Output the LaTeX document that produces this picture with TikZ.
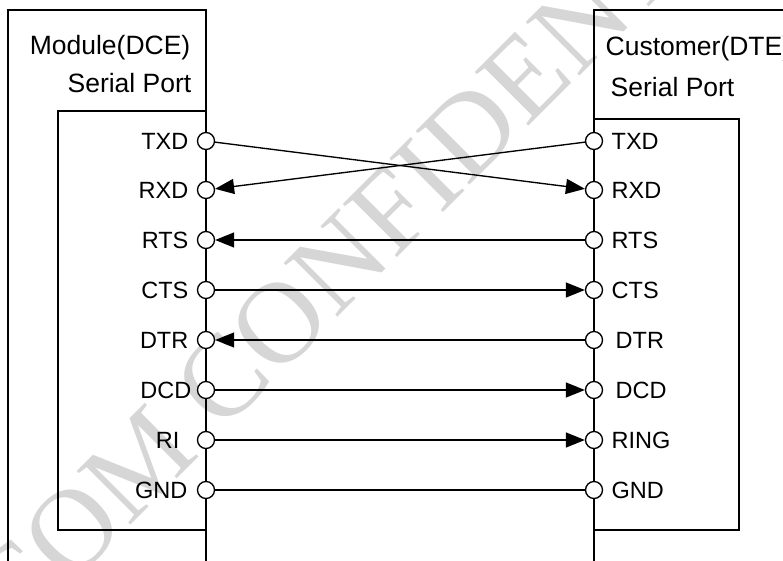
\documentclass[tikz,border=0pt]{standalone}
\usepackage{fontspec}
\setmainfont{Liberation Sans}
\newfontfamily\wmfont{Liberation Serif}
\usetikzlibrary{arrows.meta}
\begin{document}
\begin{tikzpicture}[x=1pt,y=-1pt,line width=1.35pt,
  pinc/.style={circle,draw,fill=white,minimum size=17pt,inner sep=0pt},
  lbl/.style={font=\fontsize{23.5}{27}\selectfont,inner sep=0pt},
  ttl/.style={font=\fontsize{26.5}{30}\selectfont,inner sep=0pt},
  sig/.style={-{Triangle[length=19pt,width=15pt]}},
  wmark/.style={font=\wmfont\fontsize{116}{116}\selectfont,text=black!16,rotate=45,inner sep=0pt}]
\useasboundingbox (0,0) rectangle (783,561);
\node[wmark] (wm) at (392,210) {COM CONFIDENTIAL};
% module box
\draw (8,561) -- (8,10) -- (206,10) -- (206,561);
\draw (206,111) -- (58,111) -- (58,530) -- (206,530);
% customer box
\draw (783,10) -- (594,10) -- (594,561);
\draw (594,119) -- (739,119) -- (739,530) -- (594,530);
% titles
\node[ttl,anchor=base east] (mt) at (191,55) {Module(DCE)};
\node[ttl,anchor=base east] (ms) at (192,93) {Serial Port};
\node[ttl,anchor=base west] (ct) at (605,56) {Customer(DTE)};
\node[ttl,anchor=base west] (cs) at (610,97) {Serial Port};
% pins
\foreach \i/\y in {1/141,2/190,3/240,4/290,5/340,6/390,7/440,8/490}{
  \node[pinc] (L\i) at (206,\y) {};
  \node[pinc] (R\i) at (594,\y) {};
}
% left labels
\node[lbl,anchor=east] (lt1) at (189,141) {TXD};
\node[lbl,anchor=east] (lt2) at (189,190) {RXD};
\node[lbl,anchor=east] (lt3) at (189,240) {RTS};
\node[lbl,anchor=east] (lt4) at (189,290) {CTS};
\node[lbl,anchor=east] (lt5) at (189,340) {DTR};
\node[lbl,anchor=east] (lt6) at (192,390) {DCD};
\node[lbl,anchor=east] (lt7) at (180,440) {RI};
\node[lbl,anchor=east] (lt8) at (188,490) {GND};
% right labels
\node[lbl,anchor=west] (rt1) at (611,141) {TXD};
\node[lbl,anchor=west] (rt2) at (611,190) {RXD};
\node[lbl,anchor=west] (rt3) at (611,240) {RTS};
\node[lbl,anchor=west] (rt4) at (611,290) {CTS};
\node[lbl,anchor=west] (rt5) at (615,340) {DTR};
\node[lbl,anchor=west] (rt6) at (615,390) {DCD};
\node[lbl,anchor=west] (rt7) at (611,440) {RING};
\node[lbl,anchor=west] (rt8) at (611,490) {GND};
% connections
\draw[sig] (L1) -- (R2);
\draw[sig] (R1) -- (L2);
\draw[sig] (R3) -- (L3);
\draw[sig] (L4) -- (R4);
\draw[sig] (R5) -- (L5);
\draw[sig] (L6) -- (R6);
\draw[sig] (L7) -- (R7);
\draw (L8) -- (R8);
\end{tikzpicture}
\end{document}
